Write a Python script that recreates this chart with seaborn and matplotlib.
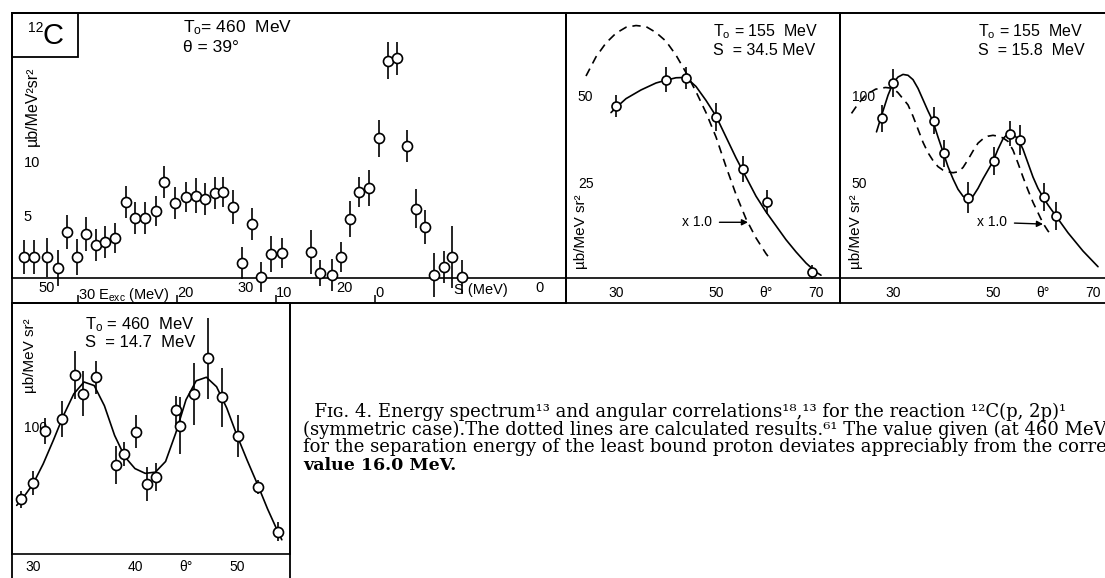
import matplotlib
matplotlib.use("Agg")
import matplotlib.pyplot as plt
from matplotlib.patches import Rectangle
import seaborn as sns

# ---------------- Panel 1: energy spectrum, T0 = 460 MeV, theta = 39 deg ----------------
spec_S = [51.5, 50.5, 49.2, 48.1, 47.2, 46.2, 45.2, 44.2, 43.3, 42.3, 41.2, 40.3, 39.3, 38.2,
          37.4, 36.3, 35.2, 34.2, 33.3, 32.3, 31.4, 30.4, 29.5, 28.5, 27.6, 26.6, 25.5, 22.6,
          21.7, 20.5, 19.6, 18.7, 17.7, 16.7, 15.7, 14.8, 13.9, 12.9, 12.0, 11.1, 10.2, 9.2,
          8.4, 7.4]
spec_sigma = [1.94, 1.94, 1.9, 0.93, 4.26, 1.94, 4.07, 3.06, 3.33, 3.7, 7.04, 5.56, 5.56, 6.2,
              8.9, 6.94, 7.5, 7.6, 7.3, 7.87, 7.96, 6.57, 1.39, 5.0, 0.1, 2.22, 2.31, 2.4,
              0.46, 0.28, 1.94, 5.46, 7.96, 8.33, 12.9, 20.1, 20.3, 12.2, 6.39, 4.72, 0.28, 1.0,
              1.94, 0.1]
spec_err = [1.6, 1.6, 1.8, 1.7, 1.6, 1.7, 1.6, 1.5, 1.5, 1.4, 1.5, 1.5, 1.5, 1.4,
            1.5, 1.5, 1.4, 1.6, 1.5, 1.5, 1.35, 1.55, 1.5, 1.5, 1.35, 1.7, 1.35, 2.0,
            1.2, 1.5, 1.4, 1.7, 1.4, 1.7, 1.7, 1.7, 1.55, 1.5, 1.8, 1.6, 2.0, 1.5,
            2.9, 1.6]
S_GROUND = 16.1          # separation energy at E_exc = 0
spec_S_ticks = [50, 40, 30, 20, 10, 0]
spec_S_labels = ["50", "", "30", "20", "", "0"]
spec_E_ticks = [30, 20, 10, 0]
spec_E_labels = [r"30 E$_\mathregular{exc}$ (MeV)", "20", "10", "0"]
spec_y_ticks = [5, 10, 15, 20]
spec_y_labels = ["5", "10", "", ""]

# ---------------- Panel 2: T0 = 155 MeV, S = 34.5 MeV ----------------
p2_theta = [30, 40, 44, 50, 55.4, 60.2, 69.2]
p2_sigma = [49.4, 56.9, 57.5, 46.2, 31.3, 21.9, 1.7]
p2_err = [3.2, 3.6, 3.1, 4.0, 3.6, 3.4, 1.9]
p2_fit_theta = [29, 30, 32, 35, 38, 40, 42, 44, 46, 48, 50, 52, 54, 56, 58, 60, 62, 64,
                66, 68, 70, 71]
p2_fit_sigma = [47.5, 48.9, 51.5, 54, 56, 56.8, 57.5, 57.6, 55, 51, 46.5, 40.5, 34.5, 29,
                23.5, 19, 15, 11, 7.5, 4.3, 1.7, 0.8]
p2_calc_theta = [24, 26, 28, 30, 32, 34, 36, 38, 40, 42, 44, 46, 48, 50, 52, 54, 56, 58,
                 60, 60.8]
p2_calc_sigma = [58, 63.5, 67.5, 70.3, 72, 72.5, 72.2, 70.5, 68, 64, 59, 53.5, 47.5, 40.5,
                 32, 24, 17, 11.5, 7, 5.5]

# ---------------- Panel 3: T0 = 155 MeV, S = 15.8 MeV ----------------
p3_theta = [27.7, 29.9, 38.2, 40.2, 44.9, 50.1, 53.4, 55.3, 60.2, 62.6]
p3_sigma = [91.8, 111.9, 90.4, 71.6, 46.2, 67.4, 82.8, 79.3, 46.4, 35.8]
p3_err = [7.7, 8.1, 7.7, 7.7, 8.8, 8.1, 7.2, 8.6, 8.1, 8.1]
p3_fit_theta = [26.7, 28, 29, 30, 31, 32, 33, 34, 35, 36, 37, 38, 39, 40, 41, 42, 43, 44,
                45, 46, 47, 48, 49, 50, 51, 52, 53, 54, 55, 56, 57, 58, 59, 60, 61, 62,
                63, 64, 65, 66, 67, 68, 69, 70, 71]
p3_fit_sigma = [84, 96, 105, 112, 115.5, 117, 116.5, 114, 109, 102.5, 96, 90, 81, 72.5, 64,
                57, 51, 47, 45.5, 47, 51.5, 57, 62, 67, 74, 80, 83, 82.5, 80, 74, 66, 58,
                51.5, 46.5, 42, 38, 34, 30, 26, 22.5, 19, 15.5, 12.5, 9.5, 6.5]
p3_calc_theta = [21.7, 23, 24.5, 26.5, 28.5, 30, 31, 32, 33, 34, 35, 36, 37, 38, 39, 40,
                 41, 42, 43, 44, 45, 46, 47, 48, 49, 50, 51, 52, 53, 54, 55, 56, 57, 58,
                 59, 60, 61, 62]
p3_calc_sigma = [94.6, 100, 105, 108.5, 109.5, 109, 106.5, 103, 99.5, 93, 85.5, 78, 72,
                 67.5, 64, 62, 61, 60.5, 61, 63.5, 68, 73, 77.5, 80, 81.5, 82, 81.5, 80.5,
                 78.5, 73.5, 66, 58, 50.5, 43.5, 37.5, 31.5, 27, 24]

# ---------------- Panel 4: T0 = 460 MeV, S = 14.7 MeV ----------------
p4_theta = [28.8, 30.0, 31.2, 32.8, 34.1, 34.9, 36.2, 38.1, 38.9, 40.1, 41.2, 42.1, 44.0,
            44.4, 45.8, 47.2, 48.5, 50.1, 52.1, 54.0]
p4_sigma = [46, 60, 104, 114, 151, 135, 149, 75, 84, 103, 59, 65, 121, 108, 135, 165, 132,
            99.5, 56.5, 18.6]
p4_err = [7, 10, 11, 15, 20, 19, 14, 16, 10, 14, 14, 12, 12, 24, 26, 34, 25, 18, 6, 8]
p4_fit_theta = [28.4, 29, 30, 31, 32, 33, 34, 35, 36, 37, 38, 39, 40, 41, 42, 43, 44, 45,
                46, 47, 48, 49, 50, 51, 52, 53, 54, 54.4]
p4_fit_sigma = [41, 47, 59, 76, 96, 117, 135, 145, 142, 125, 100, 82, 72, 68, 69, 78, 102,
                130, 146, 149, 141, 123, 100, 79, 59, 38, 19, 12]

ang_ticks_a = [30, 40, 50, 60, 70]
ang_labels_a = ["30", "", "50", "θ°", "70"]
ang_ticks_b = [30, 35, 40, 45, 50]
ang_labels_b = ["30", "", "40", "θ°", "50"]

caption_lines = [
    "  Fɪɢ. 4. Energy spectrum¹³ and angular correlations¹⁸,¹³ for the reaction ¹²C(p, 2p)¹",
    "(symmetric case).The dotted lines are calculated results.⁶¹ The value given (at 460 MeV",
    "for the separation energy of the least bound proton deviates appreciably from the corre",
]
caption_last = "value 16.0 MeV."

# ---------------- style ----------------
sns.set_theme(style="white")
plt.rcParams["font.family"] = ["Liberation Sans", "DejaVu Sans"]
plt.rcParams["mathtext.fontset"] = "dejavuserif"
plt.rcParams["axes.unicode_minus"] = False
plt.rcParams["text.color"] = "black"
plt.rcParams["axes.labelcolor"] = "black"
plt.rcParams["xtick.color"] = "black"
plt.rcParams["ytick.color"] = "black"

W, H = 1105, 578
fig = plt.figure(figsize=(W / 100, H / 100), dpi=100)
fig.patch.set_facecolor("white")


def fbox(l, t, r, b):
    return [l / W, 1 - b / H, (r - l) / W, (b - t) / H]


def outer(l, t, r, b):
    fig.add_artist(Rectangle((l / W, 1 - b / H), (r - l) / W, (b - t) / H,
                             transform=fig.transFigure, fill=False, lw=1.3,
                             edgecolor="black", zorder=10))


def style(ax, labelsize):
    ax.set_facecolor("none")
    for sp in ax.spines.values():
        sp.set_linewidth(1.2)
        sp.set_color("black")
    ax.tick_params(axis="both", direction="in", length=5, width=1.1, colors="black",
                   labelsize=labelsize, labelcolor="black")


def yticks_inside(ax, ticks, labels, size):
    ax.set_yticks(ticks)
    ax.set_yticklabels(labels)
    ax.tick_params(axis="y", pad=-8.5, labelsize=size)
    plt.setp(ax.get_yticklabels(), ha="left", va="bottom")


def points(ax, x, y, err, s):
    eb = ax.errorbar(x, y, yerr=err, fmt="none", ecolor="black", elinewidth=1.2,
                     capsize=0, zorder=2)
    for c in eb.lines[2]:
        c.set_clip_on(False)
    sns.scatterplot(x=x, y=y, ax=ax, marker="o", s=s, color="white", edgecolor="black",
                    linewidth=1.2, zorder=3, clip_on=False, legend=False)


def curve(ax, x, y, dashed=False):
    ls = (0, (5, 3.5)) if dashed else "-"
    sns.lineplot(x=x, y=y, ax=ax, color="black", lw=1.2, sort=False, estimator=None,
                 linestyle=ls, zorder=1)


# ---------------- Panel 1 ----------------
ax1 = fig.add_axes(fbox(12, 13, 566, 278))
style(ax1, 10.5)
points(ax1, spec_S, spec_sigma, spec_err, 52)
ax1.set_xlim(52.7, -3.1)
ax1.set_ylim(0, 24.5)
ax1.set_xticks(spec_S_ticks)
ax1.set_xticklabels(spec_S_labels)
ax1.tick_params(axis="x", pad=2.5)
plt.setp(ax1.get_xticklabels(), ha="left")
yticks_inside(ax1, spec_y_ticks, spec_y_labels, 10.5)
ax1.text(5.5, -0.02, "S (MeV)", transform=ax1.get_xaxis_transform(), ha="center",
         va="top", fontsize=10.5)
sec = ax1.secondary_xaxis(-25 / 265, functions=(lambda s: s - S_GROUND,
                                                 lambda e: e + S_GROUND))
sec.set_xticks(spec_E_ticks)
sec.set_xticklabels(spec_E_labels)
sec.tick_params(direction="in", length=6, width=1.1, pad=-12, labelsize=10.5,
                colors="black")
plt.setp(sec.get_xticklabels(), ha="left")
ax1.set_ylabel("µb/MeV²sr²", fontsize=11.5, color="black")
ax1.yaxis.set_label_coords(0.0505, 0.649)
ax1.set_xlabel("")
ax1.add_patch(Rectangle((0, 0.834), 0.119, 0.166, transform=ax1.transAxes, fill=False,
                        lw=1.3, edgecolor="black", clip_on=False))
ax1.text(0.074, 0.912, "C", transform=ax1.transAxes, ha="center", va="center", fontsize=21)
ax1.text(0.043, 0.945, "12", transform=ax1.transAxes, ha="center", va="center", fontsize=10)
ax1.text(0.309, 0.943, r"T$_\mathregular{o}$= 460  MeV", transform=ax1.transAxes,
         ha="left", va="center", fontsize=12.5)
ax1.text(0.309, 0.868, "θ = 39°", transform=ax1.transAxes, ha="left", va="center",
         fontsize=12.5)
outer(12, 13, 566, 303)

# ---------------- Panel 2 ----------------
ax2 = fig.add_axes(fbox(566, 13, 840, 278))
style(ax2, 10)
curve(ax2, p2_calc_theta, p2_calc_sigma, dashed=True)
curve(ax2, p2_fit_theta, p2_fit_sigma)
points(ax2, p2_theta, p2_sigma, p2_err, 42)
ax2.set_xlim(20, 74.8)
ax2.set_ylim(0, 76.1)
ax2.set_xticks(ang_ticks_a)
ax2.set_xticklabels(ang_labels_a)
ax2.tick_params(axis="x", pad=6)
yticks_inside(ax2, [25, 50], ["25", "50"], 10)
ax2.set_xlabel("")
ax2.set_ylabel("µb/MeV sr²", fontsize=11, color="black")
ax2.yaxis.set_label_coords(0.080, 0.174)
ax2.text(0.536, 0.928, r"T$_\mathregular{o}$ = 155  MeV", transform=ax2.transAxes,
         ha="left", va="center", fontsize=11.5)
ax2.text(0.536, 0.860, "S  = 34.5 MeV", transform=ax2.transAxes, ha="left",
         va="center", fontsize=11.5)
ax2.annotate("x 1.0", xy=(56.4, 16), xytext=(43.2, 16), ha="left", va="center",
             fontsize=10,
             arrowprops=dict(arrowstyle="-|>", color="black", lw=1.0, shrinkA=3,
                             shrinkB=0, mutation_scale=9))
outer(566, 13, 840, 303)

# ---------------- Panel 3 ----------------
ax3 = fig.add_axes(fbox(840, 13, 1112, 278))
style(ax3, 10)
curve(ax3, p3_calc_theta, p3_calc_sigma, dashed=True)
curve(ax3, p3_fit_theta, p3_fit_sigma)
points(ax3, p3_theta, p3_sigma, p3_err, 42)
ax3.set_xlim(19.4, 73.8)
ax3.set_ylim(0, 152.3)
ax3.set_xticks(ang_ticks_a)
ax3.set_xticklabels(ang_labels_a)
ax3.tick_params(axis="x", pad=6)
yticks_inside(ax3, [50, 100], ["50", "100"], 10)
ax3.set_xlabel("")
ax3.set_ylabel("µb/MeV sr²", fontsize=11, color="black")
ax3.yaxis.set_label_coords(0.085, 0.174)
ax3.text(0.507, 0.928, r"T$_\mathregular{o}$ = 155  MeV", transform=ax3.transAxes,
         ha="left", va="center", fontsize=11.5)
ax3.text(0.507, 0.860, "S  = 15.8  MeV", transform=ax3.transAxes, ha="left",
         va="center", fontsize=11.5)
ax3.annotate("x 1.0", xy=(60.0, 31), xytext=(46.8, 32), ha="left", va="center",
             fontsize=10,
             arrowprops=dict(arrowstyle="-|>", color="black", lw=1.0, shrinkA=3,
                             shrinkB=0, mutation_scale=9))
outer(840, 13, 1112, 303)

# ---------------- Panel 4 ----------------
ax4 = fig.add_axes(fbox(12, 303, 290, 554))
style(ax4, 10)
curve(ax4, p4_fit_theta, p4_fit_sigma)
points(ax4, p4_theta, p4_sigma, p4_err, 52)
ax4.set_xlim(27.94, 55.2)
ax4.set_ylim(0, 211.6)
ax4.set_xticks(ang_ticks_b)
ax4.set_xticklabels(ang_labels_b)
ax4.tick_params(axis="x", pad=4)
yticks_inside(ax4, [50, 100, 150], ["", "100", ""], 10)
ax4.set_xlabel("")
ax4.set_ylabel("µb/MeV sr²", fontsize=11, color="black")
ax4.yaxis.set_label_coords(0.09, 0.79)
ax4.text(0.263, 0.912, r"T$_\mathregular{o}$ = 460  MeV", transform=ax4.transAxes,
         ha="left", va="center", fontsize=12)
ax4.text(0.263, 0.841, "S  = 14.7  MeV", transform=ax4.transAxes, ha="left",
         va="center", fontsize=12)
outer(12, 303, 290, 600)

# ---------------- Caption ----------------
fig.text(303 / W, 1 - 403 / H, "\n".join(caption_lines), ha="left", va="top",
         fontsize=13, family=["DejaVu Serif"], color="black", linespacing=0.95)
fig.text(303 / W, 1 - 465 / H, caption_last, ha="left", va="center", fontsize=12.5,
         family=["DejaVu Serif"], fontweight="bold", color="black")

fig.savefig("out.png", dpi=100, facecolor="white")
